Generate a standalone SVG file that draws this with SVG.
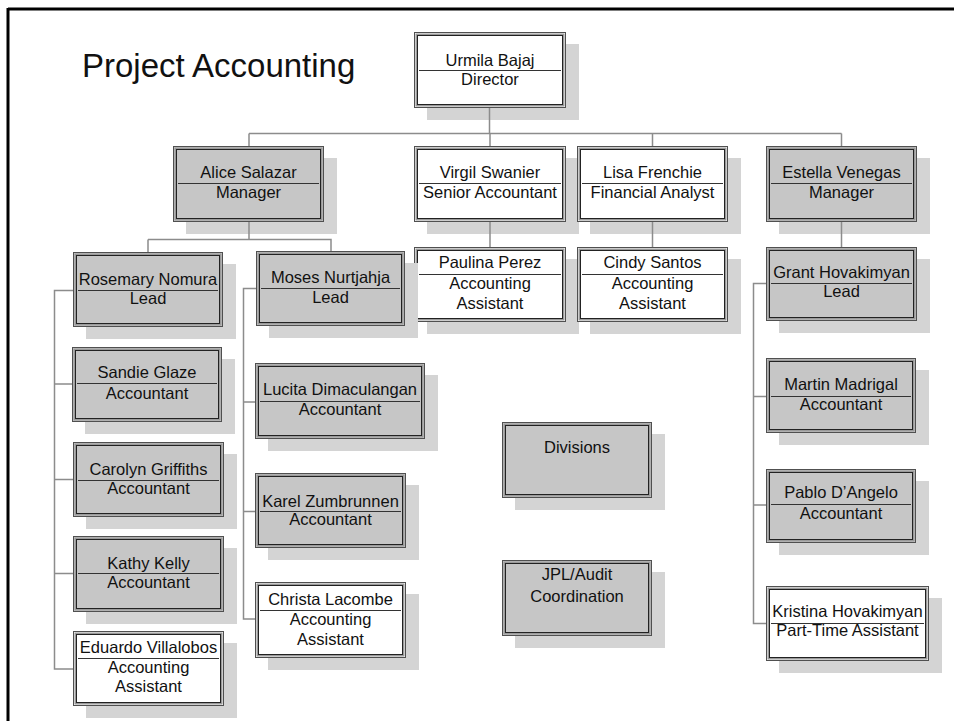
<svg xmlns="http://www.w3.org/2000/svg" width="954" height="721" viewBox="0 0 954 721">
<style>
.sh{fill:#d4d4d4}
.bx{stroke:#505050;stroke-width:1}
.g{fill:#c6c6c6}
.w{fill:#ffffff}
.band{fill:none;stroke:#9a9a9a;stroke-width:2}
.inr{fill:none;stroke:#222;stroke-width:1}
.dv{stroke:#333;stroke-width:1}
text{font-family:"Liberation Sans",Arial,sans-serif;font-size:16.5px;fill:#111;text-anchor:middle}
.title{font-size:33px;text-anchor:start}
.cn{fill:none;stroke:#8c8c8c;stroke-width:1.5}
</style>
<rect x="0" y="0" width="954" height="721" fill="#fff"/>
<path d="M8,9 H954 M8,8 V721" stroke="#000" stroke-width="3" fill="none"/>
<text class="title" x="82" y="77">Project Accounting</text>

<g id="director">
<rect class="sh" x="427" y="44" width="152" height="76"/>
<rect class="bx w" x="414.5" y="32.5" width="151" height="75"/>
<rect class="band" x="416.5" y="34.5" width="147" height="71"/>
<rect class="inr" x="417.5" y="35.5" width="145" height="69"/>
<line class="dv" x1="419" y1="70.5" x2="561" y2="70.5"/>
<text x="490" y="66">Urmila Bajaj</text><text x="490" y="85">Director</text>
</g>

<g id="alice">
<rect class="sh" x="186" y="158" width="151" height="76"/>
<rect class="bx g" x="173.5" y="146.5" width="150" height="75"/>
<rect class="band" x="175.5" y="148.5" width="146" height="71"/>
<rect class="inr" x="176.5" y="149.5" width="144" height="69"/>
<line class="dv" x1="178" y1="183.5" x2="319" y2="183.5"/>
<text x="248.5" y="178">Alice Salazar</text><text x="248.5" y="198">Manager</text>
</g>

<g id="virgil">
<rect class="sh" x="427" y="158" width="152" height="76"/>
<rect class="bx w" x="414.5" y="146.5" width="151" height="75"/>
<rect class="band" x="416.5" y="148.5" width="147" height="71"/>
<rect class="inr" x="417.5" y="149.5" width="145" height="69"/>
<line class="dv" x1="419" y1="183.5" x2="561" y2="183.5"/>
<text x="490" y="178">Virgil Swanier</text><text x="490" y="198">Senior Accountant</text>
</g>

<g id="lisa">
<rect class="sh" x="590" y="158" width="151" height="76"/>
<rect class="bx w" x="577.5" y="146.5" width="150" height="75"/>
<rect class="band" x="579.5" y="148.5" width="146" height="71"/>
<rect class="inr" x="580.5" y="149.5" width="144" height="69"/>
<line class="dv" x1="582" y1="183.5" x2="723" y2="183.5"/>
<text x="652.5" y="178">Lisa Frenchie</text><text x="652.5" y="198">Financial Analyst</text>
</g>

<g id="estella">
<rect class="sh" x="779" y="158" width="151" height="76"/>
<rect class="bx g" x="766.5" y="146.5" width="150" height="75"/>
<rect class="band" x="768.5" y="148.5" width="146" height="71"/>
<rect class="inr" x="769.5" y="149.5" width="144" height="69"/>
<line class="dv" x1="771" y1="183.5" x2="912" y2="183.5"/>
<text x="841.5" y="178">Estella Venegas</text><text x="841.5" y="198">Manager</text>
</g>

<g id="paulina">
<rect class="sh" x="427" y="259" width="152" height="75"/>
<rect class="bx w" x="414.5" y="247.5" width="151" height="74"/>
<rect class="band" x="416.5" y="249.5" width="147" height="70"/>
<rect class="inr" x="417.5" y="250.5" width="145" height="68"/>
<line class="dv" x1="419" y1="274.5" x2="561" y2="274.5"/>
<text x="490" y="268">Paulina Perez</text><text x="490" y="289">Accounting</text><text x="490" y="309">Assistant</text>
</g>

<g id="cindy">
<rect class="sh" x="590" y="259" width="151" height="75"/>
<rect class="bx w" x="577.5" y="247.5" width="150" height="74"/>
<rect class="band" x="579.5" y="249.5" width="146" height="70"/>
<rect class="inr" x="580.5" y="250.5" width="144" height="68"/>
<line class="dv" x1="582" y1="274.5" x2="723" y2="274.5"/>
<text x="652.5" y="268">Cindy Santos</text><text x="652.5" y="289">Accounting</text><text x="652.5" y="309">Assistant</text>
</g>

<g id="grant">
<rect class="sh" x="779" y="259" width="151" height="74"/>
<rect class="bx g" x="766.5" y="247.5" width="150" height="73"/>
<rect class="band" x="768.5" y="249.5" width="146" height="69"/>
<rect class="inr" x="769.5" y="250.5" width="144" height="67"/>
<line class="dv" x1="771" y1="283.5" x2="912" y2="283.5"/>
<text x="841.5" y="278">Grant Hovakimyan</text><text x="841.5" y="297">Lead</text>
</g>

<g id="rosemary">
<rect class="sh" x="86" y="264" width="150" height="75"/>
<rect class="bx g" x="73.5" y="252.5" width="149" height="74"/>
<rect class="band" x="75.5" y="254.5" width="145" height="70"/>
<rect class="inr" x="76.5" y="255.5" width="143" height="68"/>
<line class="dv" x1="78" y1="290.5" x2="218" y2="290.5"/>
<text x="148" y="285">Rosemary Nomura</text><text x="148" y="304">Lead</text>
</g>

<g id="moses">
<rect class="sh" x="269" y="263" width="149" height="75"/>
<rect class="bx g" x="256.5" y="251.5" width="148" height="74"/>
<rect class="band" x="258.5" y="253.5" width="144" height="70"/>
<rect class="inr" x="259.5" y="254.5" width="142" height="68"/>
<line class="dv" x1="261" y1="288.5" x2="400" y2="288.5"/>
<text x="330.5" y="283">Moses Nurtjahja</text><text x="330.5" y="303">Lead</text>
</g>

<g id="sandie">
<rect class="sh" x="85" y="359" width="150" height="75"/>
<rect class="bx g" x="72.5" y="347.5" width="149" height="74"/>
<rect class="band" x="74.5" y="349.5" width="145" height="70"/>
<rect class="inr" x="75.5" y="350.5" width="143" height="68"/>
<line class="dv" x1="77" y1="383.5" x2="217" y2="383.5"/>
<text x="147" y="378">Sandie Glaze</text><text x="147" y="399">Accountant</text>
</g>

<g id="carolyn">
<rect class="sh" x="86" y="454" width="151" height="75"/>
<rect class="bx g" x="73.5" y="442.5" width="150" height="74"/>
<rect class="band" x="75.5" y="444.5" width="146" height="70"/>
<rect class="inr" x="76.5" y="445.5" width="144" height="68"/>
<line class="dv" x1="78" y1="480.5" x2="219" y2="480.5"/>
<text x="148.5" y="475">Carolyn Griffiths</text><text x="148.5" y="494">Accountant</text>
</g>

<g id="kathy">
<rect class="sh" x="86" y="548" width="151" height="76"/>
<rect class="bx g" x="73.5" y="536.5" width="150" height="75"/>
<rect class="band" x="75.5" y="538.5" width="146" height="71"/>
<rect class="inr" x="76.5" y="539.5" width="144" height="69"/>
<line class="dv" x1="78" y1="573.5" x2="219" y2="573.5"/>
<text x="148.5" y="569">Kathy Kelly</text><text x="148.5" y="588">Accountant</text>
</g>

<g id="eduardo">
<rect class="sh" x="86" y="643" width="151" height="75"/>
<rect class="bx w" x="73.5" y="631.5" width="150" height="74"/>
<rect class="band" x="75.5" y="633.5" width="146" height="70"/>
<rect class="inr" x="76.5" y="634.5" width="144" height="68"/>
<line class="dv" x1="78" y1="658.5" x2="219" y2="658.5"/>
<text x="148.5" y="653">Eduardo Villalobos</text><text x="148.5" y="673">Accounting</text><text x="148.5" y="692">Assistant</text>
</g>

<g id="lucita">
<rect class="sh" x="268" y="375" width="170" height="76"/>
<rect class="bx g" x="255.5" y="363.5" width="169" height="75"/>
<rect class="band" x="257.5" y="365.5" width="165" height="71"/>
<rect class="inr" x="258.5" y="366.5" width="163" height="69"/>
<line class="dv" x1="260" y1="401.5" x2="420" y2="401.5"/>
<text x="340" y="395">Lucita Dimaculangan</text><text x="340" y="415">Accountant</text>
</g>

<g id="karel">
<rect class="sh" x="268" y="485" width="151" height="75"/>
<rect class="bx g" x="255.5" y="473.5" width="150" height="74"/>
<rect class="band" x="257.5" y="475.5" width="146" height="70"/>
<rect class="inr" x="258.5" y="476.5" width="144" height="68"/>
<line class="dv" x1="260" y1="511.5" x2="401" y2="511.5"/>
<text x="330.5" y="507">Karel Zumbrunnen</text><text x="330.5" y="525">Accountant</text>
</g>

<g id="christa">
<rect class="sh" x="268" y="594" width="151" height="76"/>
<rect class="bx w" x="255.5" y="582.5" width="150" height="75"/>
<rect class="band" x="257.5" y="584.5" width="146" height="71"/>
<rect class="inr" x="258.5" y="585.5" width="144" height="69"/>
<line class="dv" x1="260" y1="610.5" x2="401" y2="610.5"/>
<text x="330.5" y="605">Christa Lacombe</text><text x="330.5" y="625">Accounting</text><text x="330.5" y="645">Assistant</text>
</g>

<g id="martin">
<rect class="sh" x="779" y="370" width="150" height="75"/>
<rect class="bx g" x="766.5" y="358.5" width="149" height="74"/>
<rect class="band" x="768.5" y="360.5" width="145" height="70"/>
<rect class="inr" x="769.5" y="361.5" width="143" height="68"/>
<line class="dv" x1="771" y1="396.5" x2="911" y2="396.5"/>
<text x="841" y="390">Martin Madrigal</text><text x="841" y="410">Accountant</text>
</g>

<g id="pablo">
<rect class="sh" x="779" y="481" width="150" height="74"/>
<rect class="bx g" x="766.5" y="469.5" width="149" height="73"/>
<rect class="band" x="768.5" y="471.5" width="145" height="69"/>
<rect class="inr" x="769.5" y="472.5" width="143" height="67"/>
<line class="dv" x1="771" y1="504.5" x2="911" y2="504.5"/>
<text x="841" y="498">Pablo D’Angelo</text><text x="841" y="519">Accountant</text>
</g>

<g id="kristina">
<rect class="sh" x="779" y="598" width="163" height="75"/>
<rect class="bx w" x="766.5" y="586.5" width="162" height="74"/>
<rect class="band" x="768.5" y="588.5" width="158" height="70"/>
<rect class="inr" x="769.5" y="589.5" width="156" height="68"/>
<line class="dv" x1="771" y1="623.5" x2="924" y2="623.5"/>
<text x="847.5" y="617">Kristina Hovakimyan</text><text x="847.5" y="636">Part-Time Assistant</text>
</g>

<g id="divisions">
<rect class="sh" x="515" y="434" width="150" height="76"/>
<rect class="bx g" x="502.5" y="422.5" width="149" height="75"/>
<rect class="band" x="504.5" y="424.5" width="145" height="71"/>
<rect class="inr" x="505.5" y="425.5" width="143" height="69"/>
<text x="577" y="453">Divisions</text>
</g>

<g id="jpl">
<rect class="sh" x="515" y="572" width="150" height="76"/>
<rect class="bx g" x="502.5" y="560.5" width="149" height="75"/>
<rect class="band" x="504.5" y="562.5" width="145" height="71"/>
<rect class="inr" x="505.5" y="563.5" width="143" height="69"/>
<text x="577" y="580">JPL/Audit</text><text x="577" y="602">Coordination</text>
</g>

<g id="connectors">
<path class="cn" d="M489.5,108 V133.5 M249,133.5 H841.5 M249,133.5 V146 M490,133.5 V146 M652.5,133.5 V146 M841.5,133.5 V146"/>
<path class="cn" d="M490,222 V247 M652.5,222 V247 M841.5,222 V247"/>
<path class="cn" d="M249,222 V239.5 H331 V251 M148,239.5 H249 M148,239.5 V252"/>
<path class="cn" d="M73,290.5 H54.5 V669 H73 M54.5,384 H72 M54.5,479.5 H73 M54.5,573.5 H73"/>
<path class="cn" d="M256,288.5 H243.5 V619 H255 M243.5,402 H255 M243.5,511.5 H255"/>
<path class="cn" d="M766,283.5 H753.5 V623.5 H766 M753.5,396.5 H766 M753.5,505 H766"/>
</g>
</svg>
